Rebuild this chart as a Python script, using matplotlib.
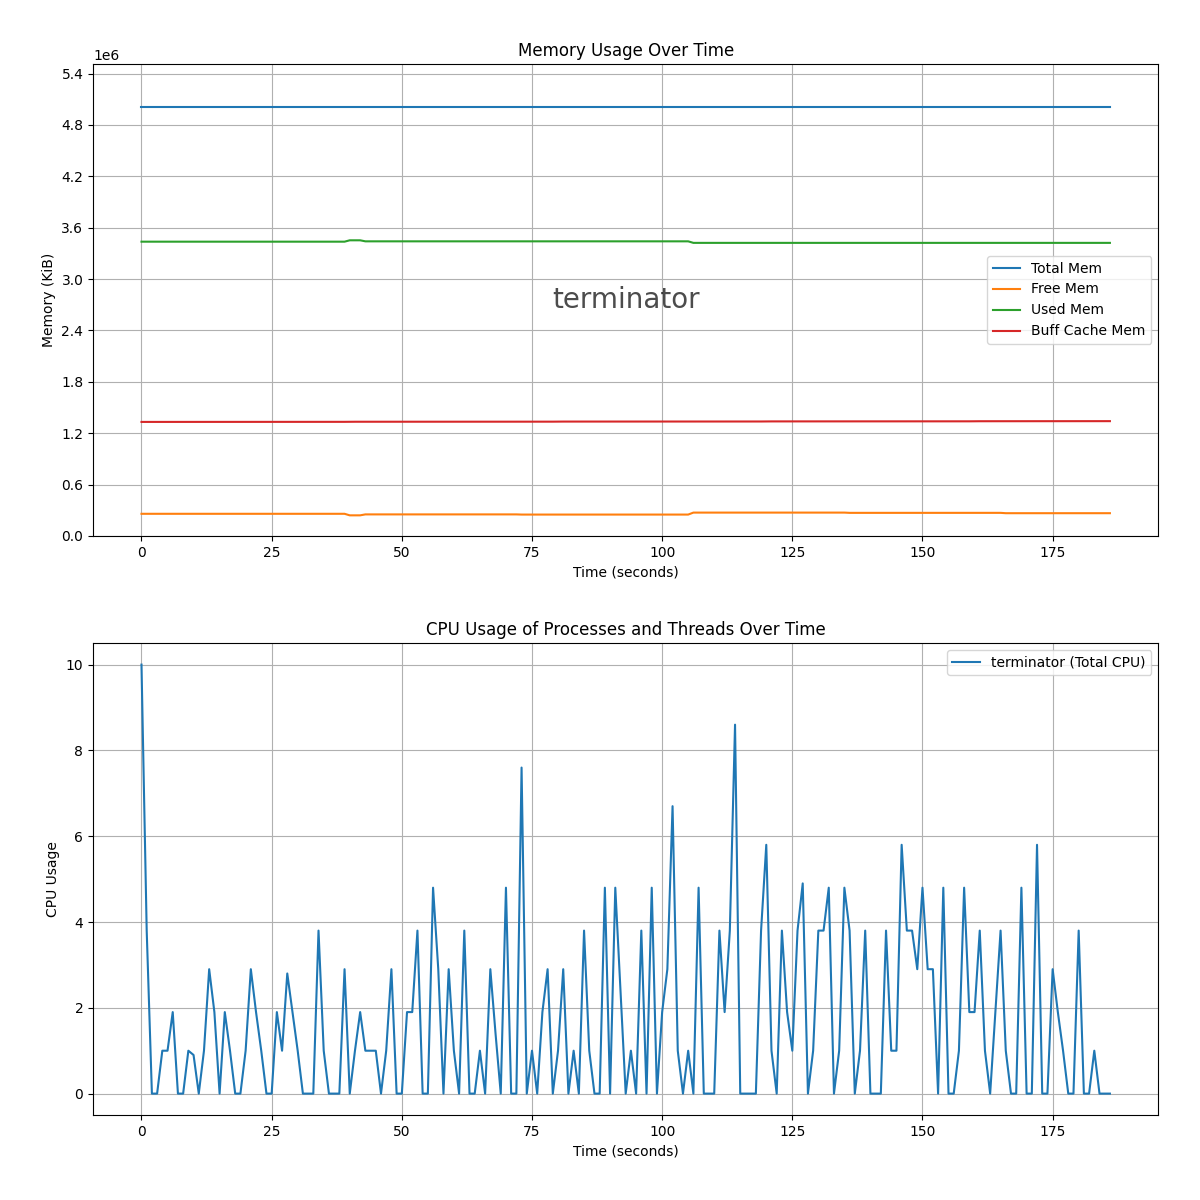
import numpy as np
import matplotlib
matplotlib.use("Agg")
import matplotlib.pyplot as plt

# ---- Data ----
n_points = 187
time_s = list(range(n_points))

total_mem = [5.01e6] * n_points
used_mem = [3.436e6] * 40 + [3.452e6] * 3 + [3.440e6] * 63 + [3.422e6] * 81
free_mem = [0.258e6] * 40 + [0.240e6] * 3 + [0.251e6] * 30 + [0.249e6] * 33 + [0.272e6] * 30 + [0.269e6] * 30 + [0.265e6] * 21
buff_cache_mem = ([1.331e6] * 20 + [1.332e6] * 20 + [1.333e6] * 20 + [1.334e6] * 20 +
                  [1.335e6] * 20 + [1.336e6] * 20 + [1.337e6] * 20 + [1.338e6] * 20 +
                  [1.339e6] * 20 + [1.340e6] * 7)

cpu_total = [
    10.0, 3.8, 0, 0, 1.0, 1.0, 1.9, 0, 0, 1.0,       # 0-9
    0.9, 0, 1.0, 2.9, 1.9, 0, 1.9, 1.0, 0, 0,        # 10-19
    1.0, 2.9, 1.9, 1.0, 0, 0, 1.9, 1.0, 2.8, 1.9,    # 20-29
    1.0, 0, 0, 0, 3.8, 1.0, 0, 0, 0, 2.9,            # 30-39
    0, 1.0, 1.9, 1.0, 1.0, 1.0, 0, 1.0, 2.9, 0,      # 40-49
    0, 1.9, 1.9, 3.8, 0, 0, 4.8, 2.9, 0, 2.9,        # 50-59
    1.0, 0, 3.8, 0, 0, 1.0, 0, 2.9, 1.4, 0,          # 60-69
    4.8, 0, 0, 7.6, 0, 1.0, 0, 1.9, 2.9, 0,          # 70-79
    1.0, 2.9, 0, 1.0, 0, 3.8, 1.0, 0, 0, 4.8,        # 80-89
    0, 4.8, 2.4, 0, 1.0, 0, 3.8, 0, 4.8, 0,          # 90-99
    1.9, 2.9, 6.7, 1.0, 0, 1.0, 0, 4.8, 0, 0,        # 100-109
    0, 3.8, 1.9, 3.8, 8.6, 0, 0, 0, 0, 3.8,          # 110-119
    5.8, 1.0, 0, 3.8, 1.9, 1.0, 3.8, 4.9, 0, 1.0,    # 120-129
    3.8, 3.8, 4.8, 0, 1.0, 4.8, 3.8, 0, 1.0, 3.8,    # 130-139
    0, 0, 0, 3.8, 1.0, 1.0, 5.8, 3.8, 3.8, 2.9,      # 140-149
    4.8, 2.9, 2.9, 0, 4.8, 0, 0, 1.0, 4.8, 1.9,      # 150-159
    1.9, 3.8, 1.0, 0, 1.9, 3.8, 1.0, 0, 0, 4.8,      # 160-169
    0, 0, 5.8, 0, 0, 2.9, 1.9, 1.0, 0, 0,            # 170-179
    3.8, 0, 0, 1.0, 0, 0, 0,                         # 180-186
]

mem_series = [
    ("Total Mem", total_mem),
    ("Free Mem", free_mem),
    ("Used Mem", used_mem),
    ("Buff Cache Mem", buff_cache_mem),
]
process_name = "terminator"

# ---- Plot ----
fig, (ax1, ax2) = plt.subplots(2, 1, figsize=(12, 12), dpi=100)

for label, vals in mem_series:
    ax1.plot(time_s, vals, label=label)
ax1.set_ylim(0, max(total_mem) * 1.1)
ax1.set_yticks(np.arange(0, 5.5e6, 0.6e6))
ax1.set_title("Memory Usage Over Time")
ax1.set_xlabel("Time (seconds)")
ax1.set_ylabel("Memory (KiB)")
ax1.grid(True)
ax1.legend(loc="center right")
ax1.text(0.5, 0.5, process_name, transform=ax1.transAxes, fontsize=20,
         color="black", alpha=0.7, ha="center", va="center")

ax2.plot(time_s, cpu_total, label=f"{process_name} (Total CPU)")
ax2.set_title("CPU Usage of Processes and Threads Over Time")
ax2.set_xlabel("Time (seconds)")
ax2.set_ylabel("CPU Usage")
ax2.grid(True)
ax2.legend(loc="upper right")

fig.tight_layout(pad=3.0)
fig.savefig("out.png", dpi=100)
